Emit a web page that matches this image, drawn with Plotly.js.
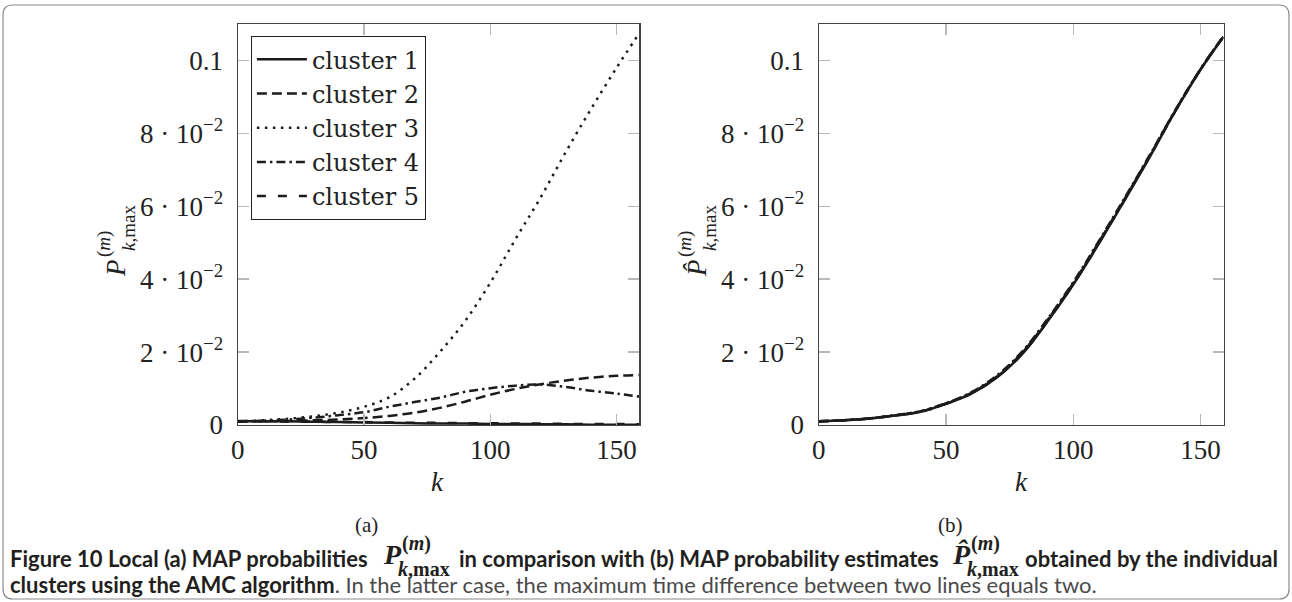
<!DOCTYPE html>
<html><head><meta charset="utf-8">
<script src="https://cdn.plot.ly/plotly-3.0.1.min.js"></script>
<style>html,body{margin:0;padding:0;background:#fff}#chart{width:1292px;height:602px}</style>
</head><body><div id="chart"></div>
<script>
// ---- data ----
const k = [0,10,20,30,40,50,60,70,80,90,100,110,120,130,140,150,159];
// (a) local MAP probabilities
const cluster1 = [0.0011,0.0010,0.0010,0.0009,0.0008,0.0007,0.0006,0.0005,0.0004,0.0004,0.0003,0.0003,0.0002,0.0002,0.0001,0.0001,0.0001];
const cluster2 = [0.0009,0.0010,0.0011,0.0013,0.0015,0.0019,0.0025,0.0034,0.0047,0.0064,0.0083,0.0099,0.0112,0.0122,0.0130,0.0135,0.0137];
const cluster3 = [0.0010,0.0013,0.0017,0.0024,0.0034,0.0050,0.0076,0.0127,0.0200,0.0285,0.0390,0.0510,0.0625,0.0750,0.0868,0.0980,0.1075];
const cluster4 = [0.0010,0.0012,0.0015,0.0020,0.0027,0.0035,0.0050,0.0063,0.0075,0.0091,0.0101,0.0108,0.0111,0.0104,0.0094,0.0086,0.0078];
const cluster5 = [0.0010,0.0010,0.0009,0.0009,0.0008,0.0008,0.0007,0.0006,0.0006,0.0005,0.0005,0.0004,0.0004,0.0003,0.0003,0.0003,0.0002];
// (b) MAP probability estimates
const est1 = [0.0010,0.0013,0.0018,0.0026,0.0036,0.0058,0.0086,0.0130,0.0195,0.0285,0.0385,0.0497,0.0615,0.0735,0.0860,0.0975,0.1065];
const est2 = [0.0010,0.0013,0.0018,0.0026,0.0037,0.0059,0.0088,0.0133,0.0199,0.0289,0.0389,0.0501,0.0618,0.0738,0.0862,0.0976,0.1066];
const est3 = [0.0010,0.0013,0.0018,0.0027,0.0037,0.0059,0.0087,0.0132,0.0198,0.0288,0.0388,0.0500,0.0617,0.0737,0.0861,0.0976,0.1066];
const est4 = [0.0010,0.0013,0.0018,0.0027,0.0038,0.0060,0.0090,0.0136,0.0202,0.0292,0.0392,0.0504,0.0621,0.0740,0.0863,0.0977,0.1067];
const est5 = [0.0010,0.0013,0.0018,0.0026,0.0036,0.0058,0.0087,0.0131,0.0196,0.0286,0.0386,0.0498,0.0616,0.0736,0.0860,0.0975,0.1065];
const seriesNames = ['cluster 1','cluster 2','cluster 3','cluster 4','cluster 5'];
const xTickVals = [0,50,100,150];
const xTickText = ['0','50','100','150'];
const yTickVals = [0,0.02,0.04,0.06,0.08,0.1];
const yTickText = ['0','2 · 10<sup>−2</sup>','4 · 10<sup>−2</sup>','6 · 10<sup>−2</sup>','8 · 10<sup>−2</sup>','0.1'];

// ---- styles ----
const W = 1292, H = 602;
const px = x => x / W, py = y => 1 - y / H;
const LC = '#1c1c1c', LW = 2.5;
const dashes = ['solid', '10px,5px', '2.5px,5.5px', '9px,4px,2.5px,4px', '9px,12px'];
const serif = 'Liberation Serif, DejaVu Serif, serif';
const sans = 'Lato, Open Sans, sans-serif';
const TXT = '#222';

const left = [cluster1, cluster2, cluster3, cluster4, cluster5];
const right = [est1, est2, est3, est4, est5];
const traces = [];
left.forEach((y, i) => traces.push({x: k, y: y, xaxis: 'x', yaxis: 'y', type: 'scatter', mode: 'lines',
  name: seriesNames[i], line: {color: LC, width: LW, dash: dashes[i], shape: 'spline'}}));
right.forEach((y, i) => traces.push({x: k, y: y, xaxis: 'x2', yaxis: 'y2', type: 'scatter', mode: 'lines',
  name: seriesNames[i], showlegend: false, line: {color: LC, width: LW, dash: dashes[i], shape: 'spline'}}));

const axX = d => ({domain: d, range: [0, 159], tickvals: xTickVals, ticktext: xTickText, ticks: 'inside', ticklen: 11,
  tickwidth: 1.5, tickcolor: '#b8b8b8', mirror: 'allticks', showline: true, linecolor: '#444', linewidth: 1.2,
  showgrid: false, zeroline: false, tickfont: {family: serif, size: 27, color: TXT}, ticklabelstandoff: 0});
const axY = (anchor) => ({domain: [py(425), py(24)], range: [0, 0.11], anchor: anchor, tickvals: yTickVals, ticktext: yTickText,
  ticks: 'inside', ticklen: 11, tickwidth: 1.5, tickcolor: '#b8b8b8', mirror: 'allticks', showline: true, linecolor: '#444',
  linewidth: 1.2, showgrid: false, zeroline: false, tickfont: {family: serif, size: 27, color: TXT}, ticklabelstandoff: 8});

const ann = [];
const A = (text, x, y, o) => ann.push(Object.assign({text: text, x: px(x), y: py(y), xref: 'paper', yref: 'paper',
  showarrow: false, xanchor: 'center', yanchor: 'middle', font: {family: serif, size: 27, color: TXT}}, o || {}));
// axis labels
[[0, 'P'], [581, 'P̂']].forEach(([dx, P]) => {
  A('<i>' + P + '</i>', 116 + dx, 268, {textangle: -90});
  A('(<i>m</i>)', 104 + dx, 244, {textangle: -90, font: {family: serif, size: 19, color: TXT}});
  A('<i>k</i>,max', 128 + dx, 228, {textangle: -90, font: {family: serif, size: 19, color: TXT}});
});
A('<i>k</i>', 438, 482);
A('<i>k</i>', 1021, 482);
A('(a)', 366, 525, {font: {family: serif, size: 21, color: TXT}});
A('(b)', 950, 525, {font: {family: serif, size: 21, color: TXT}});
// caption
const capB = {family: sans, size: 22, color: '#231f20'};
const mathB = s => ({family: serif, size: s, color: '#231f20'});
A('<b>Figure 10 Local (a) MAP probabilities</b>', 8, 558, {xanchor: 'left', font: capB});
A('<b><i>P</i></b>', 392, 554, {font: mathB(28)});
A('<b>(<i>m</i>)</b>', 416, 543, {font: mathB(20)});
A('<b><i>k</i>,max</b>', 424, 569, {font: mathB(20)});
A('<b>in comparison with (b) MAP probability estimates</b>', 941, 558, {xanchor: 'right', font: capB});
A('<b><i>P̂</i></b>', 961, 554, {font: mathB(28)});
A('<b>(<i>m</i>)</b>', 985, 543, {font: mathB(20)});
A('<b><i>k</i>,max</b>', 993, 569, {font: mathB(20)});
A('<b>obtained by the individual</b>', 1280, 558, {xanchor: 'right', font: capB});
A('<b style="color:#231f20">clusters using the AMC algorithm</b>. In the latter case, the maximum time difference between two lines equals two.',
  8, 584, {xanchor: 'left', font: {family: sans, size: 22, color: '#4a4a4a'}});

// rounded frame
const fx0 = px(3), fx1 = px(1289), fy0 = py(5), fy1 = py(599), rx = 10 / W, ry = 10 / H;
const framePath = `M ${fx0 + rx},${fy0} L ${fx1 - rx},${fy0} Q ${fx1},${fy0} ${fx1},${fy0 - ry} L ${fx1},${fy1 + ry} Q ${fx1},${fy1} ${fx1 - rx},${fy1} L ${fx0 + rx},${fy1} Q ${fx0},${fy1} ${fx0},${fy1 + ry} L ${fx0},${fy0 - ry} Q ${fx0},${fy0} ${fx0 + rx},${fy0} Z`;

const layout = {
  width: W, height: H, margin: {l: 0, r: 0, t: 0, b: 0}, paper_bgcolor: '#fff', plot_bgcolor: '#fff',
  xaxis: Object.assign(axX([px(237.7), px(639.3)]), {anchor: 'y'}),
  yaxis: axY('x'),
  xaxis2: Object.assign(axX([px(818.7), px(1223.5)]), {anchor: 'y2'}),
  yaxis2: axY('x2'),
  showlegend: true,
  legend: {x: px(250.7), y: py(36), xanchor: 'left', yanchor: 'top', bgcolor: '#fff', bordercolor: '#222', borderwidth: 1.2,
    font: {family: 'DejaVu Serif, Liberation Serif, serif', size: 24, color: TXT}, tracegroupgap: 0, itemwidth: 50},
  annotations: ann,
  shapes: [{type: 'path', path: framePath, xref: 'paper', yref: 'paper', line: {color: '#8a8a8a', width: 1.2}}]
};
Plotly.newPlot('chart', traces, layout, {displayModeBar: false, staticPlot: true});
</script></body></html>
